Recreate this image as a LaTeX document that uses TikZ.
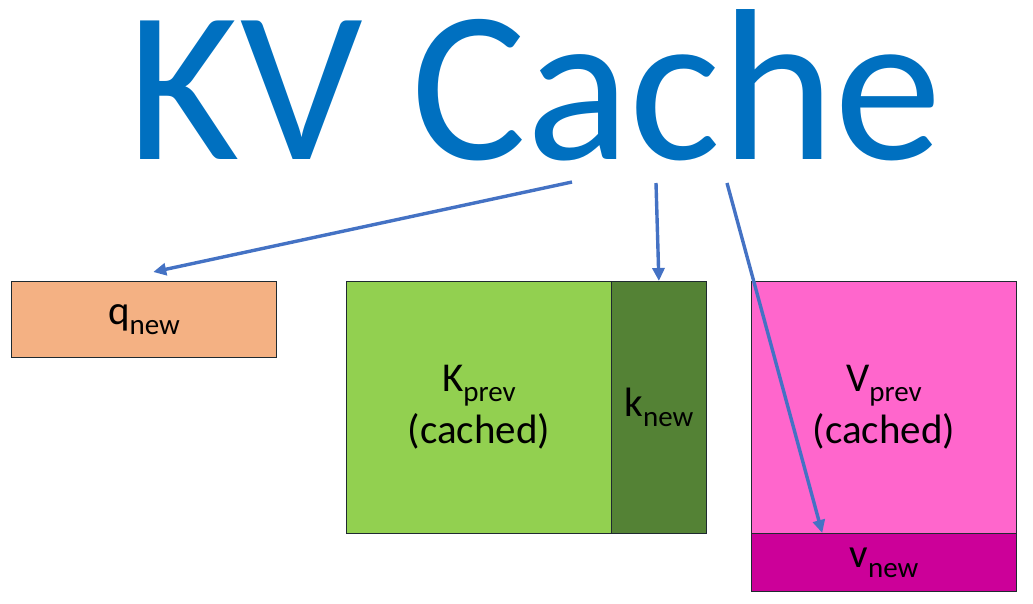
\documentclass[tikz,border=0pt]{standalone}
\usepackage{fontspec}
\setmainfont{Carlito}
\usetikzlibrary{arrows.meta,calc}
\definecolor{titleblue}{HTML}{0070C0}
\definecolor{arrowblue}{HTML}{4472C4}
\definecolor{qfill}{HTML}{F4B183}
\definecolor{kprevfill}{HTML}{92D050}
\definecolor{knewfill}{HTML}{548235}
\definecolor{vprevfill}{HTML}{FF66CC}
\definecolor{vnewfill}{HTML}{CC0099}
\definecolor{edge}{HTML}{1F2A30}
\newcommand\subtxt[1]{\raisebox{-0.24em}{\fontsize{29}{29}\selectfont #1}}
\tikzset{
  blockbox/.style={draw=edge, line width=0.8pt, inner sep=0pt, align=center,
    font=\fontsize{41}{52}\selectfont, text=black},
  feed/.style={draw=arrowblue, line width=3.4pt, -{Triangle[length=13pt,width=12pt]}}
}
\begin{document}
\begin{tikzpicture}[x=1pt,y=-1pt]
\useasboundingbox (0,0) rectangle (1033,603);
\node[anchor=base, inner sep=0pt, text=titleblue, font=\fontsize{216}{216}\selectfont] (title) at (535,159) {KV Cache};

\node[blockbox, fill=qfill, minimum width=265pt, minimum height=76pt, anchor=north west] (q) at (11,281) {q\subtxt{new}};
\node[blockbox, fill=kprevfill, minimum width=265pt, minimum height=252pt, anchor=north west] (kprev) at (346,281) {K\subtxt{prev}\\(cached)};
\node[blockbox, fill=knewfill, minimum width=95pt, minimum height=252pt, anchor=north west] (knew) at (611,281) {k\subtxt{new}};
\node[blockbox, fill=vprevfill, minimum width=265pt, minimum height=252pt, anchor=north west] (vprev) at (751,281) {V\subtxt{prev}\\(cached)};
\node[blockbox, fill=vnewfill, minimum width=265pt, minimum height=58pt, anchor=north west] (vnew) at (751,533) {\raisebox{-10pt}{v\subtxt{new}}};

\coordinate (s1) at (572,182);
\coordinate (s2) at (656,183);
\coordinate (s3) at (727,183);
\draw[feed] (s1) -- ($($(q.north west)!0.535!(q.north east)$)+(0,-9)$);
\draw[feed] (s2) -- (knew.north);
\draw[feed] (s3) -- ($(vnew.north west)!0.268!(vnew.north east)$);
\end{tikzpicture}
\end{document}
